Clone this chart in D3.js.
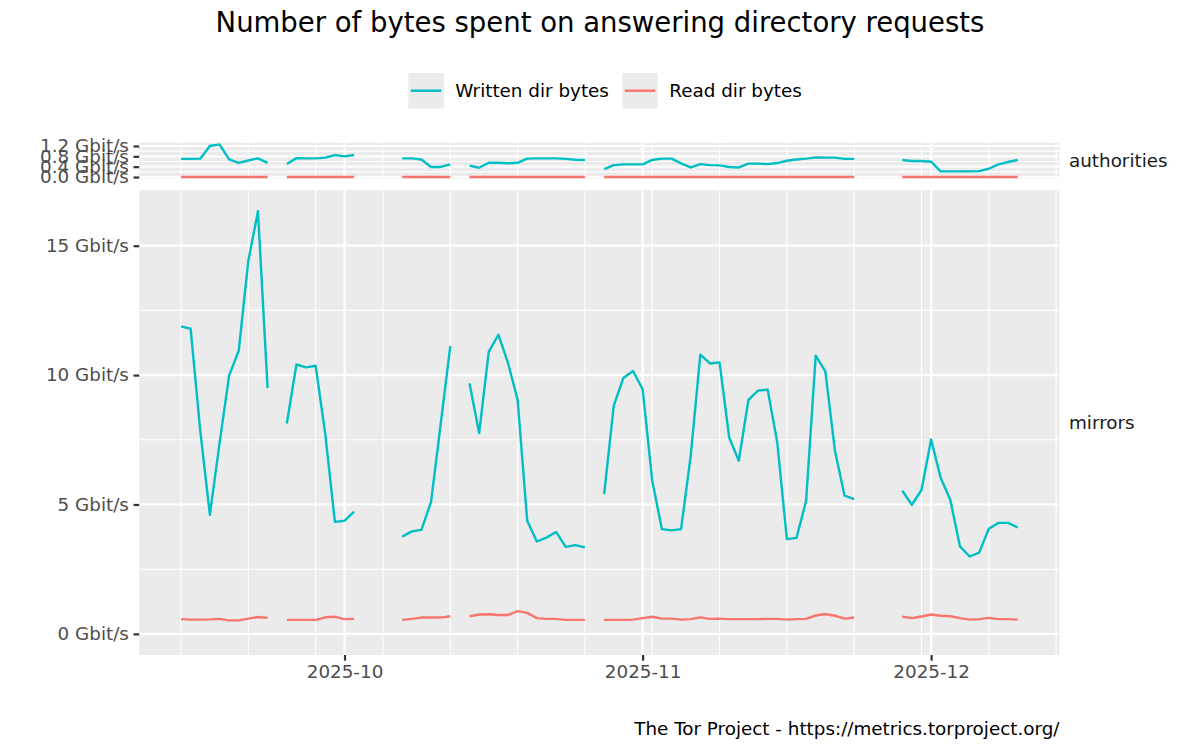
<!DOCTYPE html>
<html>
<head>
<meta charset="utf-8">
<script src="https://cdn.jsdelivr.net/npm/d3@7"></script>
<style>
	body { margin: 0; background: #fff; }
	svg text { font-family: "DejaVu Sans", sans-serif; }
</style>
</head>
<body>
<svg id="chart" width="1200" height="750"></svg>
<script>
(function () {
	'use strict';

	var startDay = '2025-09-14';
	var endDay = '2025-12-10';
	var facets = ['authorities', 'mirrors'];
	var seriesNames = ['Written dir bytes', 'Read dir bytes'];
	var seriesColors = ['#00BFC4', '#F8766D'];
	var monthTicks = ['2025-10-01', '2025-11-01', '2025-12-01'];
	var monthLabels = ['2025-10', '2025-11', '2025-12'];
	var authTicks = [0, 0.4, 0.8, 1.2];
	var authMinor = [0.2, 0.6, 1.0];
	var mirrorTicks = [0, 5, 10, 15];
	var mirrorMinor = [2.5, 7.5, 12.5];

	// Gbit/s per day from startDay, null = no data
	var writtenAuth = [
		0.70, 0.70, 0.71, 1.20, 1.26, 0.68, 0.55, 0.64, 0.72, 0.55,
		null, 0.50, 0.73, 0.72, 0.72, 0.75, 0.85, 0.80, 0.85, null,
		null, null, null, 0.72, 0.72, 0.68, 0.39, 0.39, 0.49, null,
		0.44, 0.36, 0.55, 0.55, 0.53, 0.55, 0.71, 0.72, 0.72, 0.72,
		0.70, 0.67, 0.66, null, 0.31, 0.46, 0.49, 0.49, 0.49, 0.66,
		0.71, 0.71, 0.53, 0.37, 0.50, 0.46, 0.45, 0.39, 0.37, 0.52,
		0.52, 0.50, 0.54, 0.63, 0.68, 0.71, 0.76, 0.75, 0.75, 0.70,
		0.70, null, null, null, null, 0.66, 0.62, 0.62, 0.59, 0.22,
		0.22, 0.22, 0.22, 0.23, 0.32, 0.49, 0.58, 0.66
	];
	var readAuth = [
		0.003, 0.003, 0.003, 0.003, 0.003, 0.003, 0.003, 0.003, 0.003, 0.003,
		null, 0.003, 0.003, 0.003, 0.003, 0.003, 0.003, 0.003, 0.003, null,
		null, null, null, 0.003, 0.003, 0.003, 0.003, 0.003, 0.003, null,
		0.003, 0.003, 0.003, 0.003, 0.003, 0.003, 0.003, 0.003, 0.003, 0.003,
		0.003, 0.003, 0.003, null, 0.003, 0.003, 0.003, 0.003, 0.003, 0.003,
		0.003, 0.003, 0.003, 0.003, 0.003, 0.003, 0.003, 0.003, 0.003, 0.003,
		0.003, 0.003, 0.003, 0.003, 0.003, 0.003, 0.003, 0.003, 0.003, 0.003,
		0.003, null, null, null, null, 0.003, 0.003, 0.003, 0.003, 0.003,
		0.003, 0.003, 0.003, 0.003, 0.003, 0.003, 0.003, 0.003
	];
	var writtenMirrors = [
		11.88, 11.79, 7.85, 4.60, 7.35, 9.98, 10.94, 14.42, 16.33, 9.50,
		null, 8.13, 10.41, 10.30, 10.36, 7.72, 4.33, 4.37, 4.72, null,
		null, null, null, 3.76, 3.96, 4.02, 5.10, 8.10, 11.12, null,
		9.68, 7.76, 10.90, 11.56, 10.47, 9.05, 4.37, 3.57, 3.72, 3.94,
		3.36, 3.43, 3.34, null, 5.40, 8.82, 9.89, 10.16, 9.46, 5.92,
		4.05, 4.00, 4.05, 6.88, 10.79, 10.45, 10.49, 7.59, 6.69, 9.04,
		9.40, 9.44, 7.40, 3.66, 3.71, 5.14, 10.75, 10.14, 7.08, 5.34,
		5.21, null, null, null, null, 5.53, 4.99, 5.56, 7.51, 6.02,
		5.17, 3.38, 2.99, 3.14, 4.06, 4.29, 4.29, 4.11
	];
	var readMirrors = [
		0.57, 0.55, 0.55, 0.56, 0.58, 0.52, 0.52, 0.59, 0.65, 0.62,
		null, 0.54, 0.54, 0.54, 0.54, 0.64, 0.66, 0.57, 0.58, null,
		null, null, null, 0.54, 0.58, 0.63, 0.63, 0.63, 0.68, null,
		0.68, 0.75, 0.76, 0.73, 0.73, 0.88, 0.81, 0.61, 0.58, 0.58,
		0.54, 0.54, 0.54, null, 0.54, 0.54, 0.54, 0.55, 0.61, 0.66,
		0.59, 0.59, 0.55, 0.57, 0.64, 0.58, 0.59, 0.57, 0.57, 0.57,
		0.57, 0.58, 0.58, 0.55, 0.57, 0.58, 0.71, 0.77, 0.70, 0.59,
		0.63, null, null, null, null, 0.66, 0.61, 0.67, 0.75, 0.70,
		0.68, 0.61, 0.55, 0.57, 0.62, 0.57, 0.57, 0.55
	];

	var svg = d3.select('#chart');
	var parseDay = d3.utcParse('%Y-%m-%d');
	var t0 = parseDay(startDay), t1 = parseDay(endDay);
	var days = d3.utcDay.range(t0, d3.utcDay.offset(t1, 1));
	var span = t1 - t0;

	var panelLeft = 139.2, panelRight = 1059.5;
	var plotTop = 142.8, plotBottom = 655, gap = 11.5;
	var axisText = 18.33;

	var x = d3.scaleUtc()
		.domain([new Date(+t0 - 0.05 * span), new Date(+t1 + 0.05 * span)])
		.range([panelLeft, panelRight]);

	var panels = [
		{name: facets[0], series: [writtenAuth, readAuth], ticks: authTicks, minor: authMinor, fmt: d3.format('.1f')},
		{name: facets[1], series: [writtenMirrors, readMirrors], ticks: mirrorTicks, minor: mirrorMinor, fmt: d3.format('d')}
	];

	// free y scales with space proportional to range
	panels.forEach(function(p) {
		var mx = d3.max(p.series, function(s){ return d3.max(s); });
		var mn = Math.min(0, d3.min(p.series, function(s){ return d3.min(s); }));
		p.lo = mn - 0.05 * (mx - mn);
		p.hi = mx + 0.05 * (mx - mn);
	});
	var totalRange = d3.sum(panels, function(p){ return p.hi - p.lo; });
	var k = (plotBottom - plotTop - gap) / totalRange;
	var cursor = plotTop;
	panels.forEach(function(p) {
		p.top = cursor;
		p.bottom = cursor + (p.hi - p.lo) * k;
		p.y = d3.scaleLinear().domain([p.lo, p.hi]).range([p.bottom, p.top]);
		cursor = p.bottom + gap;
	});

	var minorX = d3.utcSunday.range(x.domain()[0], x.domain()[1]);
	var majorX = monthTicks.map(parseDay);

	panels.forEach(function(p) {
		var g = svg.append('g');
		g.append('rect')
			.attr('x', panelLeft).attr('y', p.top)
			.attr('width', panelRight - panelLeft).attr('height', p.bottom - p.top)
			.attr('fill', '#EBEBEB');

		// minor grid
		g.selectAll('line.minx').data(minorX).enter().append('line')
			.attr('x1', function(d){ return x(d); }).attr('x2', function(d){ return x(d); })
			.attr('y1', p.top).attr('y2', p.bottom)
			.attr('stroke', '#fff').attr('stroke-width', 1.1);
		g.selectAll('line.miny').data(p.minor).enter().append('line')
			.attr('x1', panelLeft).attr('x2', panelRight)
			.attr('y1', function(d){ return p.y(d); }).attr('y2', function(d){ return p.y(d); })
			.attr('stroke', '#fff').attr('stroke-width', 1.1);
		// major grid
		g.selectAll('line.majx').data(majorX).enter().append('line')
			.attr('x1', function(d){ return x(d); }).attr('x2', function(d){ return x(d); })
			.attr('y1', p.top).attr('y2', p.bottom)
			.attr('stroke', '#fff').attr('stroke-width', 2.2);
		g.selectAll('line.majy').data(p.ticks).enter().append('line')
			.attr('x1', panelLeft).attr('x2', panelRight)
			.attr('y1', function(d){ return p.y(d); }).attr('y2', function(d){ return p.y(d); })
			.attr('stroke', '#fff').attr('stroke-width', 2.2);

		// data lines
		var line = d3.line()
			.defined(function(d){ return d != null; })
			.x(function(d, i){ return x(days[i]); })
			.y(function(d){ return p.y(d); });
		p.series.forEach(function(s, si) {
			g.append('path')
				.datum(s)
				.attr('d', line)
				.attr('fill', 'none')
				.attr('stroke', seriesColors[si])
				.attr('stroke-width', 2.4)
				.attr('stroke-linejoin', 'round');
		});

		// y axis
		var ax = svg.append('g')
			.attr('transform', 'translate(' + panelLeft + ',0)')
			.call(d3.axisLeft(p.y).tickValues(p.ticks).tickSize(5.7).tickPadding(4.6)
				.tickFormat(function(d){ return p.fmt(d) + ' Gbit/s'; }));
		ax.select('.domain').remove();
		ax.selectAll('line').attr('stroke', '#333').attr('stroke-width', 2.2);
		ax.selectAll('text').attr('fill', '#4D4D4D').style('font-size', axisText + 'px');

		// strip label
		svg.append('text')
			.attr('x', 1069).attr('y', (p.top + p.bottom) / 2)
			.attr('dy', '0.35em')
			.attr('fill', '#1A1A1A')
			.style('font-size', axisText + 'px')
			.text(p.name);
	});

	// x axis
	var xa = svg.append('g')
		.attr('transform', 'translate(0,' + plotBottom + ')')
		.call(d3.axisBottom(x).tickValues(majorX).tickSize(5.7).tickPadding(4.6)
			.tickFormat(function(d, i){ return monthLabels[i]; }));
	xa.select('.domain').remove();
	xa.selectAll('line').attr('stroke', '#333').attr('stroke-width', 2.2);
	xa.selectAll('text').attr('fill', '#4D4D4D').style('font-size', axisText + 'px');

	// title
	svg.append('text')
		.attr('x', 600).attr('y', 32)
		.attr('text-anchor', 'middle')
		.attr('fill', '#000')
		.style('font-size', '27.5px')
		.text('Number of bytes spent on answering directory requests');

	// legend
	var legendX = [408.3, 622.3];
	seriesNames.forEach(function(name, i) {
		var lg = svg.append('g').attr('transform', 'translate(' + legendX[i] + ',73)');
		lg.append('rect').attr('width', 35.5).attr('height', 35.5).attr('fill', '#EBEBEB');
		lg.append('line')
			.attr('x1', 2.5).attr('x2', 33).attr('y1', 17.7).attr('y2', 17.7)
			.attr('stroke', seriesColors[i]).attr('stroke-width', 2.4);
		lg.append('text')
			.attr('x', 47).attr('y', 17.7).attr('dy', '0.35em')
			.attr('fill', '#000')
			.style('font-size', axisText + 'px')
			.text(name);
	});

	// caption
	svg.append('text')
		.attr('x', panelRight).attr('y', 735)
		.attr('text-anchor', 'end')
		.attr('fill', '#000')
		.style('font-size', axisText + 'px')
		.text('The Tor Project - https://metrics.torproject.org/');
}());
</script>
</body>
</html>
